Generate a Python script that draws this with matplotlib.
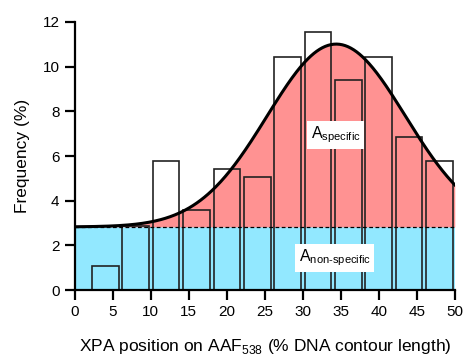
import matplotlib.pyplot as plt
import numpy as np

plt.rcParams['font.family'] = ['Liberation Sans', 'DejaVu Sans']
plt.rcParams['mathtext.fontset'] = 'custom'
plt.rcParams['mathtext.rm'] = 'Liberation Sans'

# histogram data (bin centres in % of contour length, frequency in %)
bin_centers = [4, 8, 12, 16, 20, 24, 28, 32, 36, 40, 44, 48]
frequencies = [1.1, 2.85, 5.8, 3.6, 5.4, 5.05, 10.45, 11.55, 9.4, 10.45, 6.85, 5.8]
bin_width = 3.5

# Gaussian fit on a constant baseline
baseline = 2.83
amplitude = 8.18
center = 34.4
sigma = 9.1

x = np.linspace(0, 50, 400)
fit = baseline + amplitude * np.exp(-(x - center) ** 2 / (2 * sigma ** 2))

fig = plt.figure(figsize=(4.65, 3.6), dpi=100)
ax = fig.add_axes([0.161, 0.194, 0.817, 0.745])

ax.fill_between(x, 0, baseline, color='#92E8FF', lw=0, zorder=1)
ax.fill_between(x, baseline, fit, color='#FF9292', lw=0, zorder=1)
ax.bar(bin_centers, frequencies, width=bin_width, facecolor='none',
       edgecolor='#222222', linewidth=1.2, zorder=2)
ax.plot([0, 50], [baseline, baseline], color='black', lw=0.9, ls=(0, (3, 2)), zorder=3)
ax.plot(x, fit, color='black', lw=2.2, zorder=4)

ax.text(34.3, 6.95, r'A$_{\mathrm{specific}}$', ha='center', va='center', fontsize=11.5,
        bbox=dict(facecolor='white', edgecolor='none', pad=2.5), zorder=5)
ax.text(34.2, 1.45, r'A$_{\mathrm{non\text{-}specific}}$', ha='center', va='center', fontsize=11.5,
        bbox=dict(facecolor='white', edgecolor='none', pad=2.5), zorder=5)

ax.set_xlim(0, 50)
ax.set_ylim(0, 12)
ax.set_xticks(range(0, 51, 5))
ax.set_yticks(range(0, 13, 2))
ax.spines['top'].set_visible(False)
ax.spines['right'].set_visible(False)
ax.spines['left'].set_linewidth(1.6)
ax.spines['bottom'].set_linewidth(1.6)
ax.tick_params(direction='out', length=7, width=1.6, labelsize=11, pad=4)

ax.set_xlabel(r'XPA position on AAF$_{538}$ (% DNA contour length)', fontsize=12.5, labelpad=13)
ax.set_ylabel('Frequency (%)', fontsize=12.5, labelpad=9)

fig.savefig('out.png', dpi=100)
